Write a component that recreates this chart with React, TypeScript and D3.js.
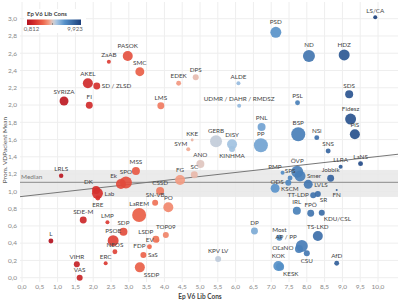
import React from "react";
import * as d3 from "d3";

const parties = ["LS/CA","PSD","ND","HDZ","SDS","PSL","Fidesz","PiS","BSP","NSi","SNS","LLRA","LaNS","ÖVP","Smer","PMP","SPS","ODS","KSCM","Jobbik","LVLS","FN","TT-LDP","SR","IRL","FPÖ","KDU/CSL","Most","TS-LKD","OĽaNO","AP / PP","CSU","AfD","KOK","KESK","DP","KPV LV","PP","PNL","UDMR / DAHR / RMDSZ","ALDE","DPS","EDEK","GERB","KINHMA","DISY","KKE","SYM","ANO","SC","FG","CSSD","MSS","LMS","SMC","PASOK","ZaAB","AKEL","SD / ZLSD","SYRIZA","FI","LRLS","Ek","SPO","DK","Lab","ERE","SDE-M","LMP","SDP","PSOE","NEOS","L","ERC","VIHR","VAS","LaREM","SN-VB","PO","TOP09","LSDP","EV","FDP","SaS","SSDP"];
const libCons = [9.923,7.13,8.06,9.05,9.19,7.74,9.23,9.35,7.76,8.28,8.6,8.95,9.51,7.73,7.81,7.32,7.53,7.48,7.11,8.67,8.04,8.84,8.18,8.31,7.72,8.11,8.42,7.23,8.31,7.78,7.86,8.0,8.84,7.2,7.25,6.53,5.51,6.71,6.73,6.1,6.08,4.88,4.4,5.45,5.9,5.9,4.78,4.67,5.01,4.84,4.44,3.88,3.2,3.9,3.31,2.97,2.44,1.85,2.1,1.18,1.89,1.1,2.78,2.92,2.08,2.12,2.13,1.72,2.4,2.85,2.56,2.61,0.812,2.35,1.54,1.62,3.29,3.74,4.11,4.04,3.76,3.8,3.58,3.41,3.31];
const vdMean = [3.016,2.843,2.568,2.58,2.124,2.027,1.838,1.661,1.661,1.622,1.468,1.286,1.321,1.228,1.178,1.216,1.155,1.1,1.036,1.151,1.082,1.016,0.954,0.97,0.776,0.746,0.753,0.463,0.483,0.333,0.367,0.283,0.167,0.136,0.127,0.541,0.217,1.534,1.746,1.992,2.252,2.321,2.252,1.58,1.491,1.545,1.595,1.487,1.317,1.193,1.132,1.004,1.236,1.992,2.386,2.568,2.502,2.252,2.221,2.047,1.997,1.182,1.085,1.103,1.016,0.978,0.923,0.668,0.642,0.533,0.429,0.301,0.425,0.167,0.155,0.0,0.726,0.869,0.815,0.495,0.445,0.43,0.359,0.263,0.12];
const seats = [4,30,36,30,16,6,30,25,49,6,6,4,6,36,30,4,6,9,20,12,20,1,9,9,16,12,9,9,25,16,36,9,6,25,16,12,9,49,16,4,4,9,6,36,9,25,2,4,16,12,25,16,16,12,20,25,4,25,12,20,12,5,25,36,16,30,6,12,4,16,30,6,6,4,9,9,49,9,25,9,12,4,6,9,25];
const labelPos: Record<string, string> = {"Smer":"r","Lab":"r","ODS":"l","KSCM":"r","LVLS":"r","FN":"b","TT-LDP":"l","SR":"br","KDU/CSL":"br","KESK":"br","KINHMA":"b","CSU":"b","OĽaNO":"l","SD / ZLSD":"r","EV":"l","SaS":"r","SSDP":"br","ERE":"b","FDP":"l","LSDP":"tl","SYM":"tl","AP / PP":"tl","DK":"tl","Ek":"tl","PMP":"tl","SPS":"t","NEOS":"t"};

const xTicks = d3.range(0, 10.01, 0.5);
const yTicks = d3.range(0, 3.01, 0.2);
const colorMin = 0.812, colorMax = 9.923;
const medianVal = 1.105, bandLow = 0.935, bandHigh = 1.248;
const trendA = 0.941, trendB = 0.0463;

export default function App() {
  const W = 400, H = 302;
  const x = d3.scaleLinear().domain([0, 10]).range([22, 378]);
  const y = d3.scaleLinear().domain([0, 3]).range([277.7, 18.7]);
  const left = 20, right = 398, top = 2, bottom = 282;
  const color = d3.scaleLinear<string>()
    .domain([colorMin, 2.2, 3.6, 4.6, 5.15, 5.8, 7.2, colorMax])
    .range(["#b3111f", "#d8332f", "#ee6a4e", "#f3a48c", "#d9d2d0", "#a8c6e3", "#5590c8", "#1b3f7c"])
    .interpolate(d3.interpolateRgb);
  const r = d3.scaleSqrt().domain([0, 49]).range([0, 7]);
  const fmt = (v: number) => d3.format(".1f")(v).replace(".", ",");
  const font = "Lato, 'Open Sans', sans-serif";
  const idx = d3.range(parties.length);
  const order = idx.slice().sort((a, b) => seats[b] - seats[a]);
  const gradStops = d3.range(0, 1.001, 0.05);

  return (
    <svg width={W} height={H} style={{ position: "absolute", left: 0, top: 0, fontFamily: font }}>
      <defs>
        <linearGradient id="lg" x1="0" x2="1" y1="0" y2="0">
          {gradStops.map((t, i) => (
            <stop key={i} offset={t} stopColor={color(colorMin + t * (colorMax - colorMin))} />
          ))}
        </linearGradient>
        <clipPath id="clip"><rect x={left} y={top} width={right - left} height={bottom - top} /></clipPath>
      </defs>
      <rect width={W} height={H} fill="#fff" />
      {xTicks.map((t) => (
        <line key={"gx" + t} x1={x(t)} x2={x(t)} y1={top} y2={bottom} stroke="#eeeeee" strokeWidth={1} />
      ))}
      {yTicks.map((t) => (
        <line key={"gy" + t} x1={left} x2={right} y1={y(t)} y2={y(t)} stroke="#eeeeee" strokeWidth={1} />
      ))}
      <g clipPath="url(#clip)">
        <rect x={left} y={y(bandHigh)} width={right - left} height={y(bandLow) - y(bandHigh)} fill="#e8e8e8" opacity={0.85} />
        <line x1={left} x2={right} y1={y(medianVal)} y2={y(medianVal)} stroke="#8a8a8a" strokeWidth={1} />
        <line x1={left} x2={right} y1={y(trendA + trendB * x.invert(left))} y2={y(trendA + trendB * x.invert(right))} stroke="#777" strokeWidth={1} />
      </g>
      <text x={21} y={y(medianVal) - 3} fontSize={6.5} fill="#777">Median</text>
      {yTicks.map((t) => (
        <text key={"ty" + t} x={17} y={y(t) + 2.3} fontSize={6.5} fill="#888" textAnchor="end">{fmt(t)}</text>
      ))}
      {xTicks.map((t) => (
        <text key={"tx" + t} x={x(t)} y={289} fontSize={6.5} fill="#888" textAnchor="middle">{fmt(t)}</text>
      ))}
      <text x={200} y={299} fontSize={6.5} fill="#444" fontWeight="bold" textAnchor="middle">Ep V6 Lib Cons</text>
      <text transform={`translate(7,150) rotate(-90)`} fontSize={6.5} fill="#555" textAnchor="middle">Prom. VDPacient Mean</text>
      {order.map((i) => (
        <circle key={"c" + i} cx={x(libCons[i])} cy={y(vdMean[i])} r={r(seats[i])} fill={color(libCons[i])} opacity={0.92} />
      ))}
      {idx.map((i) => {
        const cx = x(libCons[i]), cy = y(vdMean[i]), rr = r(seats[i]);
        const p = labelPos[parties[i]] || "t";
        let tx = cx, ty = cy - rr - 2.5, anchor = "middle";
        if (p === "r") { tx = cx + rr + 1.5; ty = cy + 2.3; anchor = "start"; }
        if (p === "l") { tx = cx - rr - 1.5; ty = cy + 1.5; anchor = "end"; }
        if (p === "b") { ty = cy + rr + 6.5; }
        if (p === "br") { tx = cx + rr - 1; ty = cy + rr + 5; anchor = "start"; }
        if (p === "bl") { tx = cx - rr + 1; ty = cy + rr + 5; anchor = "end"; }
        if (p === "tl") { tx = cx - rr + 1; ty = cy - rr - 1.5; anchor = "end"; }
        return (
          <text key={"l" + i} x={tx} y={ty} fontSize={6.3} fill="#444" textAnchor={anchor}>{parties[i]}</text>
        );
      })}
      <rect x={24} y={9} width={62} height={24} fill="#fff" />
      <text x={27} y={16} fontSize={6} fill="#444" fontWeight="bold">Ep V6 Lib Cons</text>
      <rect x={27} y={19.5} width={54} height={5.5} fill="url(#lg)" />
      <line x1={52.5} x2={52.5} y1={23} y2={25} stroke="#666" strokeWidth={0.6} />
      <text x={31.5} y={31} fontSize={6} fill="#666" textAnchor="middle">0,812</text>
      <text x={75} y={31} fontSize={6} fill="#666" textAnchor="middle">9,923</text>
    </svg>
  );
}
